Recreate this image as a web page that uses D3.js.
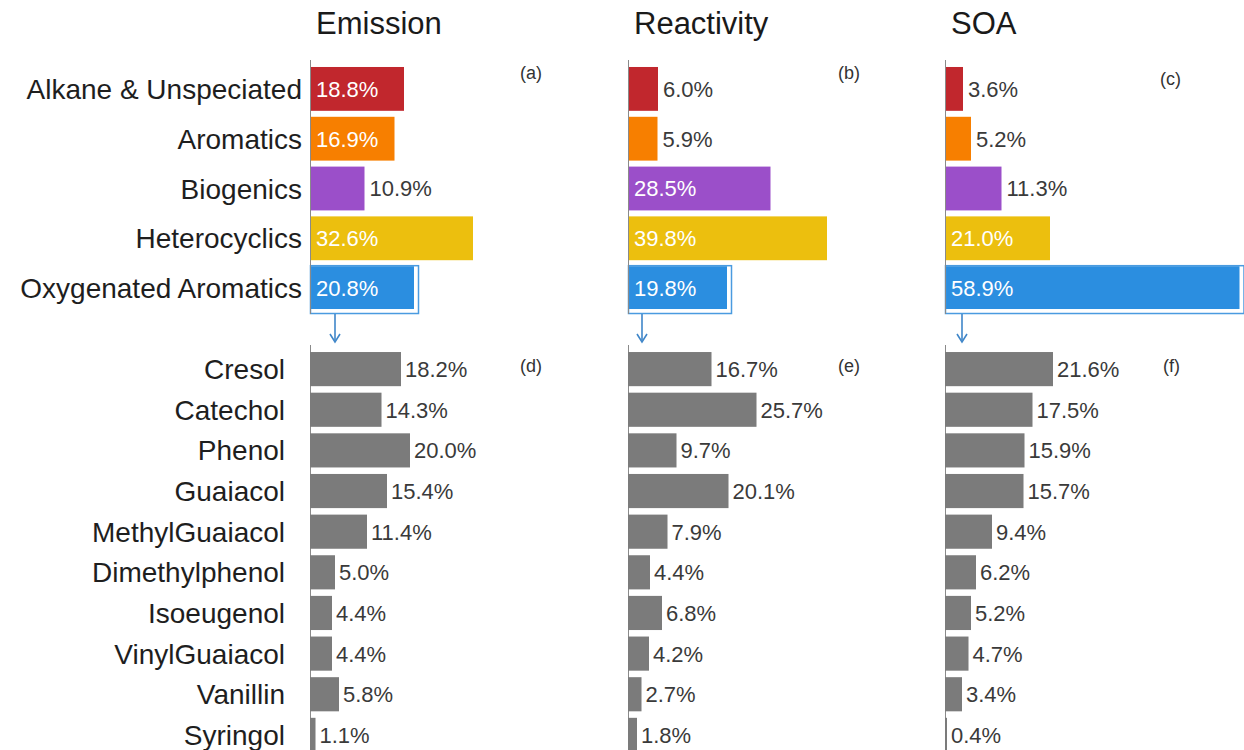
<!DOCTYPE html>
<html>
<head>
<meta charset="utf-8">
<title>Emission / Reactivity / SOA</title>
<script src="https://cdn.jsdelivr.net/npm/d3@7"></script>
<style>
  body { margin: 0; background: #fff; }
  svg text { font-family: "Liberation Sans", Arial, sans-serif; }
  .title { font-size: 31px; fill: #1a1a1a; }
  .cat { font-size: 28px; fill: #1e1e1e; text-anchor: end; }
  .val { font-size: 22px; }
  .tag { font-size: 18px; fill: #333; }
</style>
</head>
<body>
<svg id="chart" width="1244" height="750"></svg>
<script>
// ---- data ----
var panels = ['Emission', 'Reactivity', 'SOA'];
var groupCats = ['Alkane & Unspeciated', 'Aromatics', 'Biogenics', 'Heterocyclics', 'Oxygenated Aromatics'];
var groupColors = ['#c1272d', '#f77f00', '#9b4fc9', '#ecbf0e', '#2b8ee0'];
var groupEmission = [18.8, 16.9, 10.9, 32.6, 20.8];
var groupReactivity = [6.0, 5.9, 28.5, 39.8, 19.8];
var groupSOA = [3.6, 5.2, 11.3, 21.0, 58.9];

var oxyCats = ['Cresol', 'Catechol', 'Phenol', 'Guaiacol', 'MethylGuaiacol', 'Dimethylphenol', 'Isoeugenol', 'VinylGuaiacol', 'Vanillin', 'Syringol'];
var oxyEmission = [18.2, 14.3, 20.0, 15.4, 11.4, 5.0, 4.4, 4.4, 5.8, 1.1];
var oxyReactivity = [16.7, 25.7, 9.7, 20.1, 7.9, 4.4, 6.8, 4.2, 2.7, 1.8];
var oxySOA = [21.6, 17.5, 15.9, 15.7, 9.4, 6.2, 5.2, 4.7, 3.4, 0.4];

var topTags = ['(a)', '(b)', '(c)'];
var bottomTags = ['(d)', '(e)', '(f)'];

var groupSeries = [groupEmission, groupReactivity, groupSOA];
var oxySeries = [oxyEmission, oxyReactivity, oxySOA];

// ---- layout ----
var svg = d3.select('#chart');
var axisX = [310, 628, 945];
var arrowDx = [25, 14, 17];

var x = d3.scaleLinear().domain([0, 60]).range([0, 300]);

var yTop = d3.scaleBand().domain(groupCats).range([64, 313])
  .paddingInner(0.12).paddingOuter(0.06);
var yBot = d3.scaleBand().domain(oxyCats).range([350, 754])
  .paddingInner(0.16).paddingOuter(0.05);

var fmt = function (v) { return v.toFixed(1) + '%'; };

// category labels (left of first panel)
svg.append('g').selectAll('text')
  .data(groupCats).enter().append('text')
  .attr('class', 'cat')
  .attr('x', axisX[0] - 8)
  .attr('y', d => yTop(d) + yTop.bandwidth() / 2)
  .attr('dy', '0.36em')
  .text(d => d);

svg.append('g').selectAll('text')
  .data(oxyCats).enter().append('text')
  .attr('class', 'cat')
  .attr('x', axisX[0] - 25)
  .attr('y', d => yBot(d) + yBot.bandwidth() / 2)
  .attr('dy', '0.36em')
  .text(d => d);

panels.forEach(function (name, p) {
  var g = svg.append('g').attr('transform', 'translate(' + axisX[p] + ',0)');

  g.append('text').attr('class', 'title')
    .attr('x', 6).attr('y', 34).text(name);

  // top panel
  var top = groupSeries[p].map((v, i) => ({ cat: groupCats[i], v: v, c: groupColors[i] }));

  g.selectAll('.tbar').data(top).enter().append('rect')
    .attr('class', 'tbar')
    .attr('x', 0)
    .attr('y', d => yTop(d.cat))
    .attr('width', d => x(d.v))
    .attr('height', d => d.cat === 'Oxygenated Aromatics' ? yTop.bandwidth() - 1 : yTop.bandwidth())
    .attr('fill', d => d.c);

  // highlight outline round oxygenated aromatics
  var oxy = top[top.length - 1];
  g.append('rect')
    .attr('x', 0.5)
    .attr('y', yTop(oxy.cat) - 0.5)
    .attr('width', x(oxy.v) + 4)
    .attr('height', yTop.bandwidth() + 4)
    .attr('fill', 'none')
    .attr('stroke', '#4a9be0')
    .attr('stroke-width', 1.5);

  g.selectAll('.tval').data(top).enter().append('text')
    .attr('class', 'val')
    .attr('x', d => d.v >= 14 ? 6 : x(d.v) + 5)
    .attr('y', d => yTop(d.cat) + yTop.bandwidth() / 2)
    .attr('dy', '0.36em')
    .attr('fill', d => d.v >= 14 ? '#fff' : '#3a3a3a')
    .text(d => fmt(d.v));

  g.append('line')
    .attr('x1', 0.5).attr('x2', 0.5)
    .attr('y1', 60).attr('y2', yTop(oxy.cat) + yTop.bandwidth() + 4)
    .attr('stroke', '#8a8a8a').attr('stroke-width', 1);

  g.append('text').attr('class', 'tag')
    .attr('x', p === 2 ? 215 : 210).attr('y', p === 2 ? 85 : 79).text(topTags[p]);

  // arrow down to the breakdown
  var ax = arrowDx[p];
  var ay0 = yTop(oxy.cat) + yTop.bandwidth() + 4;
  g.append('line')
    .attr('x1', ax).attr('x2', ax)
    .attr('y1', ay0).attr('y2', ay0 + 26)
    .attr('stroke', '#3f86c9').attr('stroke-width', 1.6);
  g.append('path')
    .attr('d', 'M' + (ax - 5) + ',' + (ay0 + 20) + 'L' + ax + ',' + (ay0 + 28) + 'L' + (ax + 5) + ',' + (ay0 + 20))
    .attr('fill', 'none')
    .attr('stroke', '#3f86c9').attr('stroke-width', 1.6);

  // bottom panel
  var bot = oxySeries[p].map((v, i) => ({ cat: oxyCats[i], v: v }));

  g.append('line')
    .attr('x1', 0.5).attr('x2', 0.5)
    .attr('y1', 345).attr('y2', 750)
    .attr('stroke', '#8a8a8a').attr('stroke-width', 1);

  g.selectAll('.bbar').data(bot).enter().append('rect')
    .attr('class', 'bbar')
    .attr('x', 0)
    .attr('y', d => yBot(d.cat))
    .attr('width', d => Math.max(x(d.v), 1.5))
    .attr('height', yBot.bandwidth())
    .attr('fill', '#7b7b7b');

  g.selectAll('.bval').data(bot).enter().append('text')
    .attr('class', 'val')
    .attr('x', d => Math.max(x(d.v), 1.5) + 4)
    .attr('y', d => yBot(d.cat) + yBot.bandwidth() / 2)
    .attr('dy', '0.36em')
    .attr('fill', '#3a3a3a')
    .text(d => fmt(d.v));

  g.append('text').attr('class', 'tag')
    .attr('x', p === 2 ? 218 : 210).attr('y', 372).text(bottomTags[p]);
});
</script>
</body>
</html>
